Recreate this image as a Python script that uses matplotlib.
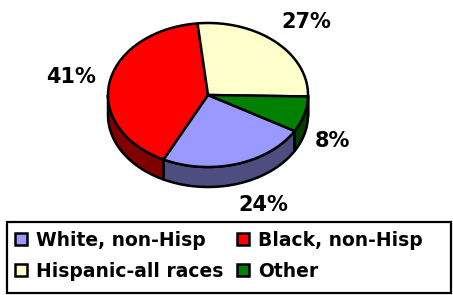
import numpy as np
import matplotlib
matplotlib.use("Agg")
import matplotlib.pyplot as plt
from matplotlib.patches import Polygon, Rectangle, Patch

# ---- data ----
categories = ["White, non-Hisp", "Black, non-Hisp", "Hispanic-all races", "Other"]
values = [24, 41, 27, 8]
labels = ["24%", "41%", "27%", "8%"]
top_colors = ["#9999FF", "#FF0000", "#FFFFCC", "#008000"]
side_colors = ["#4D4D80", "#800000", "#808066", "#004000"]

# ---- layout ----
W, H = 453, 295
cx, cy = 208, 95          # centre of top face (pixels)
a, b = 100, 72            # ellipse semi-axes
depth = 20
start = 120.0             # clockwise-from-12 angle where first slice begins
label_xy = [(263, 205), (71, 77), (306, 22), (332, 141)]

fig = plt.figure(figsize=(W / 100, H / 100), dpi=100)
ax = fig.add_axes([0, 0, 1, 1])
ax.set_xlim(0, W)
ax.set_ylim(H, 0)
ax.axis("off")

def pt(theta_deg, dy=0.0):
    t = np.radians(theta_deg)
    return cx + a * np.sin(t), cy - b * np.cos(t) + dy

total = float(sum(values))
bounds = []
ang = start
for v in values:
    span = 360.0 * v / total
    bounds.append((ang, ang + span))
    ang += span

lw = 1.8
# sides (front half: 90..270 clockwise from top)
for (t0, t1), sc in zip(bounds, side_colors):
    for off in (0, 360, -360):
        s0, s1 = max(t0 + off, 90), min(t1 + off, 270)
        if s1 > s0:
            th = np.linspace(s0, s1, 60)
            upper = [pt(t) for t in th]
            lower = [pt(t, depth) for t in th[::-1]]
            ax.add_patch(Polygon(upper + lower, closed=True, facecolor=sc,
                                 edgecolor="black", linewidth=lw, zorder=2))
# top faces
for (t0, t1), tc in zip(bounds, top_colors):
    th = np.linspace(t0, t1, 120)
    verts = [(cx, cy)] + [pt(t) for t in th]
    ax.add_patch(Polygon(verts, closed=True, facecolor=tc,
                         edgecolor="black", linewidth=lw, zorder=3,
                         joinstyle="round"))

for lab, (x, y) in zip(labels, label_xy):
    ax.text(x, y, lab, ha="center", va="center", fontsize=15,
            fontweight="bold", color="black", family="DejaVu Sans")

# legend box
ax.add_patch(Rectangle((7, 222), 444, 71, facecolor="white",
                       edgecolor="black", linewidth=1.6, zorder=1))
order = [0, 2, 1, 3]
handles = [Patch(facecolor=top_colors[i], edgecolor="black", linewidth=1.8)
           for i in order]
leg = ax.legend(handles, [categories[i] for i in order], ncol=2,
                loc="upper left", bbox_to_anchor=(15 / W, 1 - 231 / H),
                bbox_transform=ax.transAxes, frameon=False,
                prop={"family": "DejaVu Sans", "weight": "bold", "size": 13.5},
                handlelength=0.62, handleheight=0.62, handletextpad=0.5,
                columnspacing=0.75, labelspacing=0.62, borderaxespad=0,
                borderpad=0.0)

fig.savefig("out.png", dpi=100)
